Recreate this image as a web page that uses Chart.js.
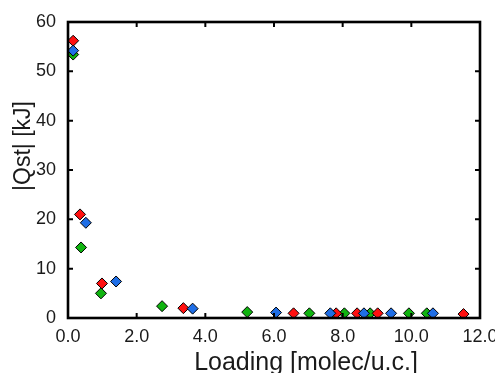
<!DOCTYPE html>
<html>
<head>
<meta charset="utf-8">
<script src="https://cdn.jsdelivr.net/npm/chart.js@4"></script>
<style>
  html, body { margin: 0; padding: 0; background: #fff; }
  #wrap { width: 495px; height: 373px; }
</style>
</head>
<body>
<div id="wrap"><canvas id="qst"></canvas></div>
<script>
// 데이터
const redX = [0.15, 0.35, 0.99, 3.36, 6.57, 7.81, 8.42, 9.02, 11.52];
const redY = [56.2, 21.0, 7.0, 2.0, 0.95, 0.95, 0.95, 0.95, 0.8];
const blueX = [0.15, 0.52, 1.40, 3.63, 6.06, 7.64, 8.62, 9.41, 10.63];
const blueY = [54.2, 19.3, 7.4, 1.9, 1.1, 0.95, 0.95, 0.95, 0.95];
const greenX = [0.15, 0.38, 0.96, 2.74, 5.22, 7.03, 8.05, 8.80, 9.93, 10.45];
const greenY = [53.4, 14.3, 5.0, 2.4, 1.2, 0.95, 0.95, 0.95, 0.95, 0.95];

const xTicks = [0, 2, 4, 6, 8, 10, 12];
const yTicks = [0, 10, 20, 30, 40, 50, 60];
const xTitle = 'Loading [molec/u.c.]';
const yTitle = '|Qst| [kJ]';

const FONT = 'Liberation Sans, Arial, Helvetica, sans-serif';

function toPoints(xs, ys) {
  return xs.map((x, i) => ({ x: x, y: ys[i] }));
}

function series(label, xs, ys, color) {
  return {
    label: label,
    data: toPoints(xs, ys),
    pointStyle: 'rectRot',
    pointRadius: 5.5,
    pointHoverRadius: 5.5,
    pointBackgroundColor: color,
    pointBorderColor: '#000',
    pointBorderWidth: 1,
    showLine: false
  };
}

// 테두리, 안쪽 눈금, 축 제목
const frame = {
  id: 'frame',
  afterDraw(chart) {
    const ctx = chart.ctx;
    const a = chart.chartArea;
    const xs = chart.scales.x;
    const ys = chart.scales.y;
    ctx.save();
    ctx.strokeStyle = '#000';
    ctx.lineWidth = 2;
    const tl = 5;
    ctx.beginPath();
    xTicks.forEach(v => {
      const px = xs.getPixelForValue(v);
      if (v === 0 || v === 12) return;
      ctx.moveTo(px, a.bottom); ctx.lineTo(px, a.bottom - tl);
      ctx.moveTo(px, a.top); ctx.lineTo(px, a.top + tl);
    });
    yTicks.forEach(v => {
      const py = ys.getPixelForValue(v);
      if (v === 0 || v === 60) return;
      ctx.moveTo(a.left, py); ctx.lineTo(a.left + tl, py);
      ctx.moveTo(a.right, py); ctx.lineTo(a.right - tl, py);
    });
    ctx.stroke();
    ctx.lineWidth = 2.6;
    ctx.strokeRect(a.left, a.top, a.right - a.left, a.bottom - a.top);

    ctx.fillStyle = '#1a1a1a';
    ctx.textAlign = 'center';
    ctx.textBaseline = 'alphabetic';
    ctx.font = '25px ' + FONT;
    ctx.fillText(xTitle, 306, 370);
    ctx.font = '23px ' + FONT;
    ctx.translate(30, 146);
    ctx.rotate(-Math.PI / 2);
    ctx.fillText(yTitle, 0, 0);
    ctx.restore();
  }
};

new Chart(document.getElementById('qst'), {
  type: 'scatter',
  data: {
    datasets: [
      series('blue', blueX, blueY, '#1f6ee6'),
      series('red', redX, redY, '#ff1010'),
      series('green', greenX, greenY, '#10b410')
    ]
  },
  options: {
    responsive: true,
    maintainAspectRatio: false,
    animation: false,
    layout: { padding: { top: 22, right: 15, left: 0, bottom: 0 } },
    plugins: {
      legend: { display: false },
      tooltip: { enabled: false }
    },
    scales: {
      x: {
        type: 'linear',
        min: 0,
        max: 12,
        afterBuildTicks: s => { s.ticks = xTicks.map(v => ({ value: v })); },
        afterFit: s => { s.height = 55; s.paddingLeft = 0; s.paddingRight = 0; },
        grid: { display: false, drawTicks: false },
        border: { display: false },
        ticks: {
          padding: 8,
          maxRotation: 0,
          color: '#1a1a1a',
          font: { family: FONT, size: 18 },
          callback: v => Number(v).toFixed(1)
        }
      },
      y: {
        type: 'linear',
        min: 0,
        max: 60,
        afterBuildTicks: s => { s.ticks = yTicks.map(v => ({ value: v })); },
        afterFit: s => { s.width = 68; s.paddingTop = 0; s.paddingBottom = 0; },
        grid: { display: false, drawTicks: false },
        border: { display: false },
        ticks: {
          padding: 12,
          color: '#1a1a1a',
          font: { family: FONT, size: 18 },
          callback: v => String(v)
        }
      }
    }
  },
  plugins: [frame]
});
</script>
</body>
</html>
